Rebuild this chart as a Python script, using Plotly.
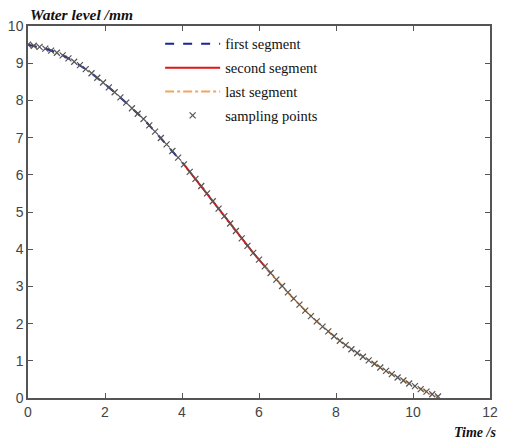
import plotly.graph_objects as go

# Sampling times (s) and water level (mm)
time_s = [0.00, 0.15, 0.30, 0.45, 0.60, 0.75, 0.90, 1.05, 1.20, 1.35,
          1.50, 1.65, 1.80, 1.95, 2.10, 2.25, 2.40, 2.55, 2.70, 2.85,
          3.00, 3.15, 3.30, 3.45, 3.60, 3.75, 3.90, 4.05, 4.20, 4.35,
          4.50, 4.65, 4.80, 4.95, 5.10, 5.25, 5.40, 5.55, 5.70, 5.85,
          6.00, 6.15, 6.30, 6.45, 6.60, 6.75, 6.90, 7.05, 7.20, 7.35,
          7.50, 7.65, 7.80, 7.95, 8.10, 8.25, 8.40, 8.55, 8.70, 8.85,
          9.00, 9.15, 9.30, 9.45, 9.60, 9.75, 9.90, 10.05, 10.20, 10.35,
          10.50, 10.65]
level_mm = [9.50, 9.47, 9.44, 9.39, 9.34, 9.28, 9.21, 9.13, 9.04, 8.95,
            8.84, 8.73, 8.61, 8.48, 8.35, 8.22, 8.08, 7.94, 7.79, 7.64,
            7.50, 7.33, 7.16, 6.99, 6.82, 6.64, 6.46, 6.28, 6.08, 5.89,
            5.70, 5.50, 5.29, 5.09, 4.89, 4.69, 4.49, 4.29, 4.09, 3.90,
            3.72, 3.54, 3.36, 3.18, 3.01, 2.84, 2.67, 2.51, 2.35, 2.20,
            2.06, 1.92, 1.79, 1.66, 1.54, 1.42, 1.31, 1.21, 1.11, 1.01,
            0.92, 0.82, 0.73, 0.64, 0.55, 0.47, 0.39, 0.32, 0.24, 0.17,
            0.10, 0.04]

first_end = 27    # index of t=4.05
second_end = 42   # index of t=6.30

x_ticks = [0, 2, 4, 6, 8, 10, 12]
y_ticks = [0, 1, 2, 3, 4, 5, 6, 7, 8, 9, 10]

fig = go.Figure()
fig.add_trace(go.Scatter(
    x=time_s[:first_end + 1], y=level_mm[:first_end + 1], mode="lines",
    name="first segment", legendgroup="a",
    line=dict(color="#1a2596", width=2, dash="dash")))
fig.add_trace(go.Scatter(
    x=time_s[first_end:second_end + 1], y=level_mm[first_end:second_end + 1],
    mode="lines", name="second segment", legendgroup="b",
    line=dict(color="#e31414", width=2)))
fig.add_trace(go.Scatter(
    x=time_s[second_end - 1:], y=level_mm[second_end - 1:], mode="lines",
    name="last segment", legendgroup="c",
    line=dict(color="#f2a55c", width=2, dash="dashdot")))
fig.add_trace(go.Scatter(
    x=time_s, y=level_mm, mode="markers", name="sampling points",
    legendgroup="d",
    marker=dict(symbol="x-thin", size=6,
                line=dict(color="#555555", width=1.2), color="#555555")))

axis_common = dict(
    showgrid=False, zeroline=False, showline=True, linecolor="#555555",
    linewidth=1.5, mirror="ticks", ticks="inside", ticklen=5,
    tickcolor="#555555", tickwidth=1,
    tickfont=dict(family="Liberation Sans, Arial", size=14, color="#444444"))

fig.update_xaxes(range=[0, 12], tickvals=x_ticks, **axis_common)
fig.update_yaxes(range=[0, 10], tickvals=y_ticks, **axis_common)

fig.update_layout(
    width=506, height=441,
    margin=dict(l=28, r=8, t=26, b=43),
    plot_bgcolor="white", paper_bgcolor="white",
    showlegend=True,
    legend=dict(x=0.286, y=0.995, xanchor="left", yanchor="top",
                bgcolor="rgba(0,0,0,0)", tracegroupgap=2, itemwidth=55,
                font=dict(family="Liberation Serif, Times New Roman",
                          size=14.5, color="#111111")),
    annotations=[
        dict(text="<b><i>Water level /mm</i></b>", xref="paper", yref="paper",
             x=0.0, y=1.03, xanchor="left", yanchor="middle",
             showarrow=False,
             font=dict(family="Liberation Serif, Times New Roman", size=15.5,
                       color="#111111")),
        dict(text="<b><i>Time /s</i></b>", xref="paper", yref="paper",
             x=1.017, y=-0.092, xanchor="right", yanchor="middle",
             showarrow=False,
             font=dict(family="Liberation Serif, Times New Roman", size=14,
                       color="#111111")),
    ],
)

fig.write_html("out.html")
